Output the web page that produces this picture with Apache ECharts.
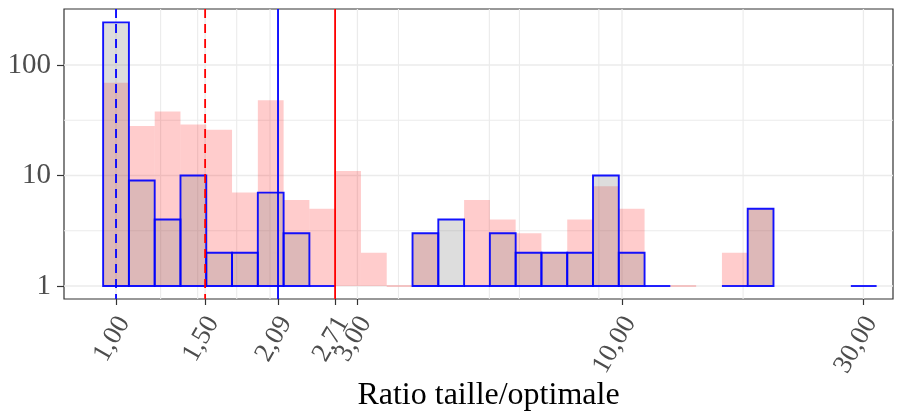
<!DOCTYPE html>
<html>
<head>
<meta charset="utf-8">
<script src="https://cdn.jsdelivr.net/npm/echarts@6/dist/echarts.min.js"></script>
<style>html,body{margin:0;padding:0;background:#fff}#c{width:902px;height:412px}</style>
</head>
<body>
<div id="c"></div>
<script>
// Histogram bins (log-spaced, 30 bins from min to max of the data)
const binCount = 30;
const dataMin = 1.0;
const dataMax = 30.04;
// Counts per bin
const countsBlue = [243, 9, 4, 10, 2, 2, 7, 3, 1, 0, 0, 0, 3, 4, 1, 3, 2, 2, 2, 10, 2, 1, 0, 0, 1, 5, 0, 0, 0, 1];
const countsRed  = [69, 28, 38, 29, 26, 7, 48, 6, 5, 11, 2, 1, 3, 0, 6, 4, 3, 2, 4, 8, 5, 0, 1, 0, 2, 5, 0, 0, 0, 0];
// Reference lines (median dashed, mean solid)
const blueMedian = 1.00, blueMean = 2.09;
const redMedian = 1.50, redMean = 2.71;
// Axis ticks
const xTickValues = [1, 1.5, 2.09, 2.71, 3, 10, 30];
const yTickValues = [1, 10, 100];
const xMinorGrid = [1.225, 1.45, 1.732, 2.015, 3.616, 5.468, 6.27, 9.0, 17.35];
const yMinorGrid = [3.162, 31.62];
const xTitle = 'Ratio taille/optimale';

const FONT = "'Liberation Serif', 'DejaVu Serif', serif";

const lwLog = (Math.log10(dataMax) - Math.log10(dataMin)) / (binCount - 1);
function binData(counts) {
  const out = [];
  counts.forEach((c, i) => {
    if (c <= 0) return;
    const ctr = Math.log10(dataMin) + i * lwLog;
    out.push([Math.pow(10, ctr - lwLog / 2), Math.pow(10, ctr + lwLog / 2), c]);
  });
  return out;
}

function histSeries(counts, fill, stroke, flatColor, z) {
  return {
    type: 'custom', z: z, silent: true,
    data: binData(counts),
    encode: { x: [0, 1], y: 2 },
    renderItem: function (params, api) {
      const lo = api.value(0), hi = api.value(1), c = api.value(2);
      const p0 = api.coord([lo, c]);
      const p1 = api.coord([hi, 1]);
      if (c <= 1) {
        return { type: 'line', shape: { x1: p0[0], y1: p1[1], x2: p1[0], y2: p1[1] },
          style: { stroke: flatColor, lineWidth: 1.9 } };
      }
      return { type: 'rect',
        shape: { x: p0[0], y: p0[1], width: p1[0] - p0[0], height: p1[1] - p0[1] },
        style: { fill: fill, stroke: stroke, lineWidth: stroke ? 1.9 : 0 } };
    }
  };
}

// gridline data: [x, y, orientation(0=vertical,1=horizontal), width]
const gridData = [];
xTickValues.forEach(v => gridData.push([v, 1, 0, 1.3]));
xMinorGrid.forEach(v => gridData.push([v, 1, 0, 1.1]));
yTickValues.forEach(v => gridData.push([1, v, 1, 1.7]));
yMinorGrid.forEach(v => gridData.push([1, v, 1, 1.1]));

const vlineData = [
  [blueMedian, 1, 0], [redMedian, 1, 1], [blueMean, 1, 2], [redMean, 1, 3]
];
const vlineStyles = [
  { stroke: '#0000ff', lineDash: [9, 6] },
  { stroke: '#ff0000', lineDash: [9, 6] },
  { stroke: '#0000ff', lineDash: null },
  { stroke: '#ff0000', lineDash: null }
];

const option = {
  animation: false,
  backgroundColor: '#ffffff',
  grid: { left: 64, right: 9, top: 9, bottom: 113, show: true, borderColor: '#333333', borderWidth: 1.2,
          backgroundColor: 'transparent', containLabel: false, outerBoundsMode: 'none' },
  xAxis: {
    type: 'log', logBase: 10, min: 0.7892, max: 34.32,
    name: xTitle, nameLocation: 'middle', nameGap: 81, nameMoveOverlap: false,
    nameTextStyle: { fontFamily: FONT, fontSize: 32, color: '#000000', padding: [0, 0, 0, 20] },
    axisLine: { show: false },
    axisTick: { show: true, length: 6, customValues: xTickValues, lineStyle: { color: '#333333', width: 1.2 } },
    axisLabel: { customValues: xTickValues, rotate: 60, margin: 15, verticalAlign: 'top', lineHeight: 18,
      fontFamily: FONT, fontSize: 27, color: '#4d4d4d',
      formatter: v => Number(v).toFixed(2).replace('.', ',') },
    splitLine: { show: false }, minorSplitLine: { show: false }
  },
  yAxis: {
    type: 'log', logBase: 10, min: 0.7629, max: 321,
    axisLine: { show: false },
    axisTick: { show: true, length: 7, customValues: yTickValues, lineStyle: { color: '#333333', width: 1.2 } },
    axisLabel: { customValues: yTickValues, margin: 13, fontFamily: FONT, fontSize: 29, color: '#4d4d4d',
      formatter: v => String(Math.round(v)) },
    splitLine: { show: false }, minorSplitLine: { show: false }
  },
  series: [
    {
      type: 'custom', z: 1, silent: true, data: gridData,
      encode: { x: 0, y: 1 },
      renderItem: function (params, api) {
        const cs = params.coordSys;
        const p = api.coord([api.value(0), api.value(1)]);
        const w = api.value(3);
        if (api.value(2) === 0) {
          return { type: 'line', shape: { x1: p[0], y1: cs.y, x2: p[0], y2: cs.y + cs.height },
            style: { stroke: '#ebebeb', lineWidth: w } };
        }
        return { type: 'line', shape: { x1: cs.x, y1: p[1], x2: cs.x + cs.width, y2: p[1] },
          style: { stroke: '#ebebeb', lineWidth: w } };
      }
    },
    histSeries(countsRed, 'rgba(255,0,0,0.2)', null, 'rgba(255,0,0,0.2)', 2),
    histSeries(countsBlue, 'rgba(128,128,128,0.27)', 'rgba(0,0,255,0.92)', 'rgba(0,0,255,0.92)', 3),
    {
      type: 'custom', z: 4, silent: true, data: vlineData,
      encode: { x: 0, y: 1 },
      renderItem: function (params, api) {
        const cs = params.coordSys;
        const p = api.coord([api.value(0), api.value(1)]);
        const s = vlineStyles[api.value(2)];
        return { type: 'line', shape: { x1: p[0], y1: cs.y, x2: p[0], y2: cs.y + cs.height },
          style: { stroke: s.stroke, lineWidth: 1.8, lineDash: s.lineDash } };
      }
    }
  ]
};

const chart = echarts.init(document.getElementById('c'), null, { renderer: 'canvas' });
chart.setOption(option);
</script>
</body>
</html>
